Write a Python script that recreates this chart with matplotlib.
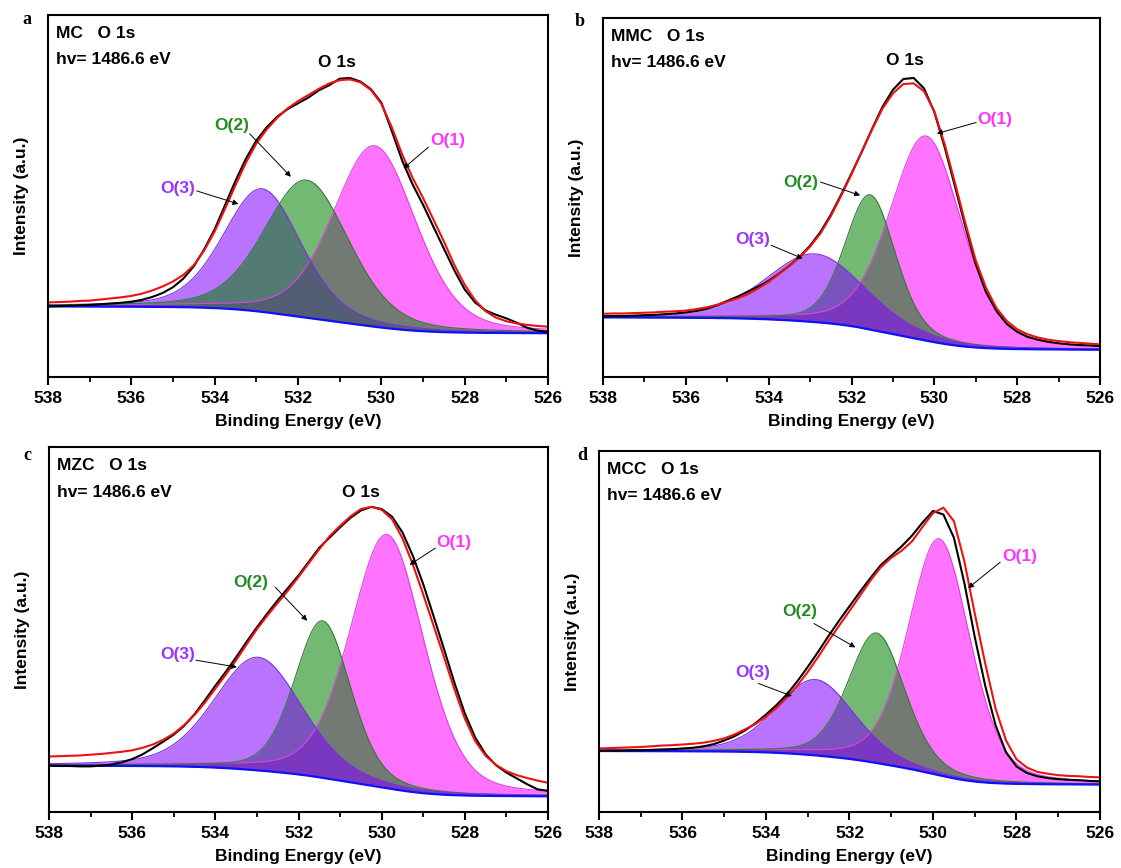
import numpy as np
import matplotlib
matplotlib.use('Agg')
import matplotlib.pyplot as plt
from matplotlib.ticker import MultipleLocator

plt.rcParams['font.family'] = ['Liberation Sans', 'DejaVu Sans']

# ---------------- data ----------------
panel_letters = ['a', 'b', 'c', 'd']
sample_names = ['MC', 'MMC', 'MZC', 'MCC']
photon_text = 'hv= 1486.6 eV'

# sampling energies (eV) of the measured and fitted envelopes
energy = [538.0, 537.75, 537.5, 537.25, 537.0, 536.75, 536.5, 536.25, 536.0,
          535.75, 535.5, 535.25, 535.0, 534.75, 534.5, 534.25, 534.0, 533.75,
          533.5, 533.25, 533.0, 532.75, 532.5, 532.25, 532.0, 531.75, 531.5,
          531.25, 531.0, 530.75, 530.5, 530.25, 530.0, 529.75, 529.5, 529.25,
          529.0, 528.75, 528.5, 528.25, 528.0, 527.75, 527.5, 527.25, 527.0,
          526.75, 526.5, 526.25, 526.0]

# measured spectra (black)
raw_a = [19.5, 19.6, 19.7, 19.8, 19.9, 20.1, 20.3, 20.5, 20.8, 21.3, 22.1, 23.2,
         24.8, 27.2, 30.6, 35.3, 40.8, 47.5, 54.2, 60.3, 65.3, 69.0, 71.9, 74.0,
         75.6, 77.2, 79.2, 80.6, 82.4, 82.6, 81.6, 79.5, 75.8, 68.0, 59.8, 53.2,
         47.6, 41.5, 35.5, 29.5, 24.2, 20.6, 18.4, 17.2, 16.2, 15.0, 13.6, 12.8, 12.5]
raw_b = [16.9, 17.0, 17.0, 17.1, 17.2, 17.3, 17.5, 17.7, 18.0, 18.4, 19.0, 20.0,
         21.2, 22.4, 23.8, 25.2, 26.8, 28.8, 31.0, 33.5, 36.6, 40.4, 45.2, 50.8,
         56.7, 62.8, 69.2, 75.3, 80.0, 83.0, 83.3, 80.4, 73.8, 64.0, 53.0, 41.8,
         31.4, 23.6, 18.4, 14.8, 12.6, 11.2, 10.4, 9.8, 9.4, 9.1, 8.9, 8.8, 8.6]
raw_c = [12.7, 12.6, 12.6, 12.5, 12.5, 12.7, 13.0, 13.6, 14.5, 15.8, 17.5, 19.3,
         21.2, 23.6, 26.8, 30.6, 34.6, 38.4, 42.4, 46.6, 50.6, 54.4, 58.0, 61.4,
         64.8, 68.6, 72.4, 75.2, 78.0, 80.6, 82.6, 83.6, 83.0, 80.9, 76.6, 70.2,
         62.4, 53.6, 44.6, 35.4, 27.0, 20.4, 15.8, 12.8, 10.8, 9.2, 7.6, 6.2, 5.8]
raw_d = [17.0, 17.0, 17.0, 17.1, 17.1, 17.2, 17.3, 17.4, 17.6, 17.8, 18.2, 18.8,
         19.8, 21.0, 22.6, 24.6, 27.0, 29.6, 32.6, 36.2, 40.2, 44.4, 48.8, 53.0,
         57.0, 61.0, 64.8, 68.4, 71.0, 73.6, 76.6, 80.2, 83.4, 82.4, 76.0, 63.5,
         48.5, 35.0, 24.0, 16.5, 12.6, 10.8, 9.9, 9.4, 9.1, 8.9, 8.8, 8.6, 8.5]

# fitted envelopes (red)
fit_a = [20.6, 20.7, 20.8, 21.0, 21.1, 21.4, 21.7, 22.0, 22.4, 23.0, 23.9, 25.0,
         26.4, 28.2, 30.9, 35.0, 40.2, 46.5, 53.0, 59.2, 64.5, 68.4, 71.6, 74.2,
         76.2, 77.9, 79.6, 81.1, 82.0, 82.2, 81.4, 79.3, 75.5, 69.0, 61.5, 55.0,
         49.5, 43.5, 37.5, 31.0, 25.5, 21.2, 18.2, 16.4, 15.4, 14.8, 14.4, 14.1, 13.9]
fit_b = [17.6, 17.7, 17.7, 17.8, 17.9, 18.0, 18.2, 18.3, 18.5, 18.9, 19.4, 20.1,
         21.0, 21.9, 23.1, 24.7, 26.5, 28.7, 31.0, 33.4, 36.3, 40.0, 44.8, 50.5,
         56.5, 62.8, 69.0, 74.8, 79.0, 81.6, 81.8, 79.6, 74.0, 64.8, 54.0, 42.8,
         32.5, 24.8, 19.2, 15.6, 13.3, 11.9, 11.0, 10.4, 10.0, 9.7, 9.5, 9.3, 9.1]
fit_c = [15.2, 15.3, 15.4, 15.5, 15.7, 15.9, 16.2, 16.5, 16.9, 17.6, 18.5, 19.8,
         21.5, 23.8, 26.6, 30.0, 33.8, 37.6, 41.6, 45.9, 50.1, 53.8, 57.3, 60.7,
         64.4, 68.2, 72.0, 75.6, 78.4, 81.0, 83.0, 83.6, 82.8, 80.2, 75.0, 67.8,
         59.6, 51.0, 42.4, 33.6, 25.6, 19.4, 15.4, 12.9, 11.2, 10.1, 9.3, 8.6, 8.0]
fit_d = [17.6, 17.7, 17.8, 17.9, 18.0, 18.2, 18.4, 18.5, 18.7, 18.9, 19.2, 19.7,
         20.4, 21.5, 22.9, 24.4, 26.4, 28.8, 31.7, 35.0, 38.8, 43.0, 47.4, 51.6,
         55.7, 59.9, 64.1, 67.8, 70.4, 72.4, 75.0, 79.0, 82.8, 84.3, 80.6, 69.5,
         55.0, 41.2, 28.6, 19.8, 14.6, 12.3, 11.1, 10.6, 10.2, 10.0, 9.9, 9.7, 9.6]

# Shirley background end levels (high-BE side, low-BE side)
bg_high = [19.5, 16.6, 12.7, 16.9]
bg_low = [12.1, 7.6, 4.3, 7.6]

# fitted components: centre (eV), height (a.u.), FWHM (eV)
o1_center = [530.16, 530.20, 529.87, 529.85]
o1_height = [50.0, 57.0, 69.5, 65.5]
o1_fwhm = [2.35, 2.05, 2.10, 1.75]
o2_center = [531.79, 531.55, 531.42, 531.35]
o2_height = [38.0, 37.5, 43.0, 36.0]
o2_fwhm = [2.40, 1.45, 1.60, 1.60]
o3_center = [532.86, 532.87, 532.97, 532.81]
o3_height = [34.0, 19.0, 31.0, 21.0]
o3_fwhm = [2.20, 2.80, 2.50, 2.20]
lorentz_fraction = 0.3

# annotation positions: (label x, label y, arrow start x, y, arrow end x, y)
o1_annot = [(528.40, 65.4, 528.87, 63.5, 529.47, 57.6),
            (528.53, 71.8, 528.99, 70.9, 529.94, 67.8),
            (528.26, 73.7, 528.71, 72.3, 529.33, 67.7),
            (527.93, 70.7, 528.39, 69.2, 529.16, 62.0)]
o2_annot = [(533.59, 69.5, 533.16, 67.2, 532.17, 55.3),
            (533.22, 54.3, 532.75, 54.3, 531.79, 50.6),
            (533.14, 63.0, 532.56, 61.6, 531.79, 52.4),
            (533.19, 55.6, 532.85, 52.2, 531.86, 45.6)]
o3_annot = [(534.89, 52.1, 534.43, 51.4, 533.43, 47.8),
            (534.39, 38.3, 533.94, 36.7, 533.18, 33.0),
            (534.90, 43.2, 534.47, 41.6, 533.48, 39.7),
            (534.33, 38.6, 534.18, 35.6, 533.38, 32.1)]
o1s_label = [(531.06, 87.0), (530.71, 88.2), (530.49, 87.5), None]

# ---------------- styling ----------------
W, H = 1121, 868
axes_px = [(48, 15, 548, 377), (603, 18, 1100, 377),
           (49, 447, 548, 812), (599, 451, 1100, 812)]
letter_px = [(27, 20), (580, 22), (27, 456), (582, 455)]
fill_order = [('o1', 'o3', 'o2'), ('o1', 'o2', 'o3'),
              ('o1', 'o2', 'o3'), ('o1', 'o2', 'o3')]
fill_col = {'o1': '#ff00ff', 'o2': '#008000', 'o3': '#8000ff'}
edge_col = {'o1': '#e040e0', 'o2': '#2e7d32', 'o3': '#7a30e0'}
label_col = {'o1': '#ff33ff', 'o2': '#228b22', 'o3': '#9933ff'}


def pseudo_voigt(e, c, h, w, eta):
    x2 = 4.0 * (e - c) ** 2 / w ** 2
    return h * ((1 - eta) * np.exp(-np.log(2) * x2) + eta / (1 + x2))


fig = plt.figure(figsize=(W / 100, H / 100), dpi=100)
E = np.linspace(526.0, 538.0, 2401)
raws = [raw_a, raw_b, raw_c, raw_d]
fits = [fit_a, fit_b, fit_c, fit_d]

for i in range(4):
    x0, y0, x1, y1 = axes_px[i]
    ax = fig.add_axes([x0 / W, 1 - y1 / H, (x1 - x0) / W, (y1 - y0) / H])
    comps = {
        'o1': pseudo_voigt(E, o1_center[i], o1_height[i], o1_fwhm[i], lorentz_fraction),
        'o2': pseudo_voigt(E, o2_center[i], o2_height[i], o2_fwhm[i], lorentz_fraction),
        'o3': pseudo_voigt(E, o3_center[i], o3_height[i], o3_fwhm[i], lorentz_fraction),
    }
    total = comps['o1'] + comps['o2'] + comps['o3']
    cum = np.cumsum(total)
    bg = bg_low[i] + (bg_high[i] - bg_low[i]) * cum / cum[-1]

    for k in fill_order[i]:
        ax.fill_between(E, bg, bg + comps[k], color=fill_col[k], alpha=0.55, lw=0)
        ax.plot(E, bg + comps[k], color=edge_col[k], lw=0.8)
    ax.plot(E, bg, color='#1010ff', lw=1.6)
    ax.plot(energy, raws[i], color='black', lw=1.5)
    ax.plot(energy, fits[i], color='#ee1111', lw=1.5)

    ax.set_xlim(538, 526)
    ax.set_ylim(0, 100)
    ax.set_yticks([])
    ax.xaxis.set_major_locator(MultipleLocator(2))
    ax.xaxis.set_minor_locator(MultipleLocator(1))
    ax.tick_params(axis='x', which='major', direction='out', length=6, width=1.5,
                   labelsize=12.5, pad=4)
    ax.tick_params(axis='x', which='minor', direction='out', length=3.5, width=1.3)
    for lab in ax.get_xticklabels():
        lab.set_fontweight('bold')
    for s in ax.spines.values():
        s.set_linewidth(1.5)
    ax.set_xlabel('Binding Energy (eV)', fontsize=12.5, fontweight='bold', labelpad=6)
    ax.set_ylabel('Intensity (a.u.)', fontsize=12.5, fontweight='bold', labelpad=14)

    ax.text(0.016, 0.948, sample_names[i] + '   O 1s', transform=ax.transAxes,
            fontsize=12.5, fontweight='bold', va='center', ha='left')
    ax.text(0.016, 0.876, photon_text, transform=ax.transAxes,
            fontsize=12.5, fontweight='bold', va='center', ha='left')
    if o1s_label[i] is not None:
        ax.text(o1s_label[i][0], o1s_label[i][1], 'O 1s', fontsize=12.5,
                fontweight='bold', ha='center', va='center')

    for key, ann, txt in (('o1', o1_annot[i], 'O(1)'), ('o2', o2_annot[i], 'O(2)'),
                          ('o3', o3_annot[i], 'O(3)')):
        lx, ly, sx, sy, ex, ey = ann
        ax.text(lx, ly, txt, color=label_col[key], fontsize=12.5, fontweight='bold',
                ha='center', va='center')
        ax.annotate('', xy=(ex, ey), xytext=(sx, sy),
                    arrowprops=dict(arrowstyle='-|>', color='black', lw=0.7,
                                    mutation_scale=8, shrinkA=0, shrinkB=0))

    lx, ly = letter_px[i]
    fig.text(lx / W, 1 - ly / H, panel_letters[i], fontsize=13, fontweight='bold',
             family=['Liberation Serif', 'DejaVu Serif'], ha='center', va='center')

fig.savefig('out.png', dpi=100)
